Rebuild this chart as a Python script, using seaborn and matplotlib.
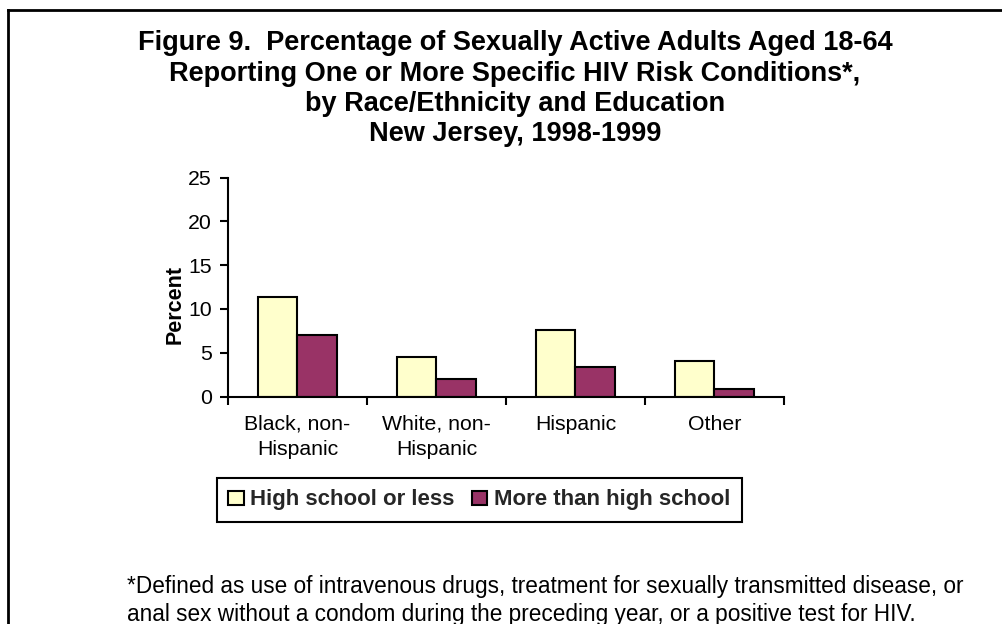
import matplotlib
matplotlib.use("Agg")
import matplotlib.pyplot as plt
import seaborn as sns
import pandas as pd
from matplotlib.lines import Line2D
from matplotlib.ticker import FixedLocator

# ---- data ----
categories = ["Black, non-\nHispanic", "White, non-\nHispanic", "Hispanic", "Other"]
education_levels = ["High school or less", "More than high school"]
hs_or_less = [11.4, 4.5, 7.6, 4.1]
more_than_hs = [7.0, 2.0, 3.4, 0.8]
y_ticks = [0, 5, 10, 15, 20, 25]
title_lines = [
    "Figure 9.  Percentage of Sexually Active Adults Aged 18-64",
    "Reporting One or More Specific HIV Risk Conditions*,",
    "by Race/Ethnicity and Education",
    "New Jersey, 1998-1999",
]
footnote_lines = [
    "*Defined as use of intravenous drugs, treatment for sexually transmitted disease, or",
    "anal sex without a condom during the preceding year, or a positive test for HIV.",
]
palette = {"High school or less": "#FFFFCC", "More than high school": "#993366"}

df = pd.DataFrame({
    "Group": categories * 2,
    "Education": [education_levels[0]] * len(categories) + [education_levels[1]] * len(categories),
    "Percent": hs_or_less + more_than_hs,
})

sns.set_style("ticks")
plt.rcParams["font.family"] = ["Liberation Sans", "DejaVu Sans"]

W, H = 1003, 624
fig = plt.figure(figsize=(W / 100, H / 100), dpi=100)
fig.patch.set_facecolor("white")


def fx(px):
    return px / W


def fy(py):
    return 1 - py / H


ax = fig.add_axes([fx(228), fy(396.5), fx(784) - fx(228), fy(177.5) - fy(396.5)])
sns.barplot(data=df, x="Group", y="Percent", hue="Education",
            order=categories, hue_order=education_levels, palette=palette,
            saturation=1, edgecolor="black", linewidth=1.5, width=0.575, ax=ax)

leg = ax.get_legend()
if leg is not None:
    leg.remove()

ax.set_xlim(-0.5, 3.5)
ax.set_ylim(0, 25)
ax.set_yticks(y_ticks)
ax.set_xlabel("")
ax.set_ylabel("Percent", fontsize=15.5, fontweight="bold", color="black")
ax.yaxis.set_label_coords(-0.0755, 0.42)

for s in ["top", "right"]:
    ax.spines[s].set_visible(False)
for s in ["left", "bottom"]:
    ax.spines[s].set_linewidth(1.5)
    ax.spines[s].set_color("black")

ax.tick_params(axis="y", length=5.5, width=1.5, pad=6, labelsize=15.3,
               color="black", labelcolor="black")
ax.tick_params(axis="x", which="major", length=0, pad=13, labelsize=15.3,
               labelcolor="black")
ax.xaxis.set_minor_locator(FixedLocator([-0.5, 0.5, 1.5, 2.5, 3.5]))
ax.tick_params(axis="x", which="minor", length=5.5, width=1.5, color="black")
for lbl in ax.get_xticklabels():
    lbl.set_linespacing(1.4)

handles, labels = ax.get_legend_handles_labels()
lg = ax.legend(handles, labels, loc="center", ncol=2,
               bbox_to_anchor=(fx(479.5), fy(500)), bbox_transform=fig.transFigure,
               prop={"weight": "bold", "size": 16}, frameon=True, fancybox=False,
               framealpha=1, edgecolor="black", handlelength=0.68, handleheight=0.6,
               handletextpad=0.3, columnspacing=0.8, borderpad=0.5)
lg.get_frame().set_linewidth(1.5)

# title
for y, line in zip([43, 74, 104, 134], title_lines):
    fig.text(fx(515), fy(y), line, ha="center", va="center",
             fontsize=19.5, fontweight="bold", color="black")

# footnote
for y, line in zip([587, 614], footnote_lines):
    fig.text(fx(127), fy(y), line, ha="left", va="center", fontsize=16.3, color="black")

# outer border (top and left only visible)
fig.add_artist(Line2D([fx(8), fx(8)], [fy(10), -0.01], transform=fig.transFigure,
                      color="black", lw=2, solid_capstyle="projecting"))
fig.add_artist(Line2D([fx(8), 1.01], [fy(10), fy(10)], transform=fig.transFigure,
                      color="black", lw=2, solid_capstyle="projecting"))

fig.savefig("out.png", dpi=100, facecolor="white")
